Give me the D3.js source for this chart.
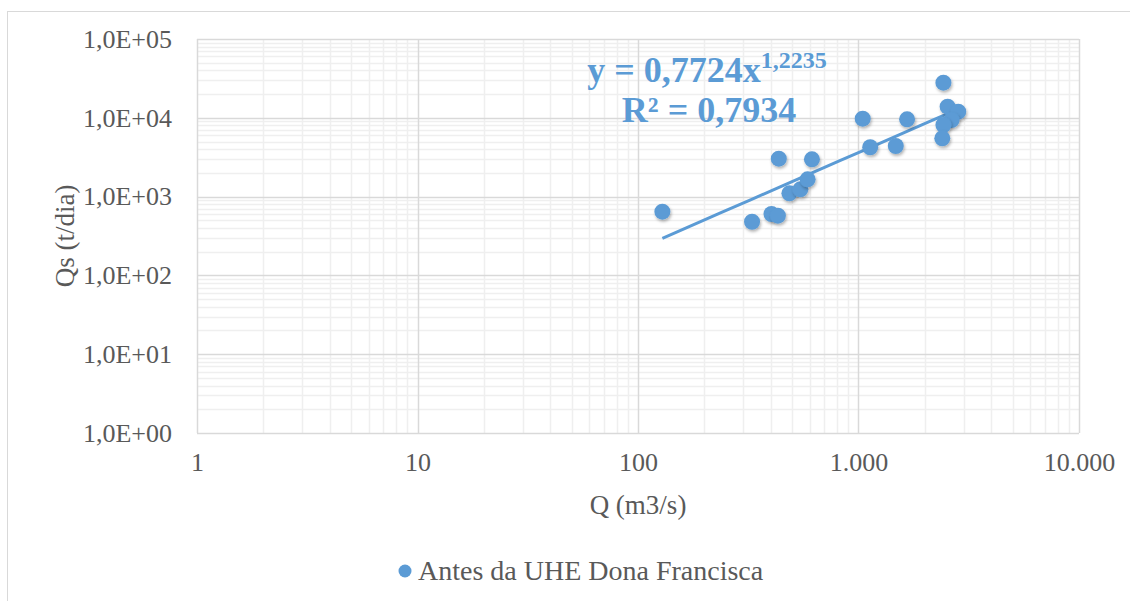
<!DOCTYPE html>
<html>
<head>
<meta charset="utf-8">
<script src="https://cdn.jsdelivr.net/npm/d3@7"></script>
<style>
  body { margin: 0; background: #fff; }
  svg text { font-family: "Liberation Serif", "DejaVu Serif", serif; }
  .tick text { fill: #595959; font-size: 26px; }
  .title { fill: #595959; font-size: 27px; }
  .eq { fill: #5b9bd5; font-weight: bold; }
</style>
</head>
<body>
<svg id="chart"></svg>
<script>

// data
var qValues  = [129, 329, 403, 431, 435, 486, 545, 588, 615, 1045, 1130, 1476, 1661, 2427, 2536, 2833, 2643, 2427, 2399]
var qsValues = [643, 480, 601, 572, 3027, 1101, 1238, 1657, 2973, 9743, 4226, 4387, 9566, 27900, 13830, 11950, 9370, 8110, 5493]

var xTickValues = [1, 10, 100, 1000, 10000]
var xTickLabels = ["1", "10", "100", "1.000", "10.000"]
var yTickValues = [1, 10, 100, 1000, 10000, 100000]
var yTickLabels = ["1,0E+00", "1,0E+01", "1,0E+02", "1,0E+03", "1,0E+04", "1,0E+05"]

var trendA = 0.7724
var trendB = 1.2235
var seriesName = "Antes da UHE Dona Francisca"

var screen = {width: 1130, height: 601}
var plot = {left: 197, right: 1079, top: 39, bottom: 433}
var blue = "#5b9bd5"
var serif = "Liberation Serif, DejaVu Serif, serif"

var svg = d3.select("#chart")
    .attr("width", screen.width)
    .attr("height", screen.height)

// chart border
svg.append("rect")
    .attr("x", 7.5).attr("y", 11.5)
    .attr("width", 1140).attr("height", 620)
    .attr("fill", "none")
    .attr("stroke", "#d9d9d9")

var defs = svg.append("defs")
var shadow = defs.append("filter").attr("id", "shadow")
    .attr("x", "-50%").attr("y", "-50%").attr("width", "200%").attr("height", "200%")
shadow.append("feDropShadow")
    .attr("dx", 1).attr("dy", 2).attr("stdDeviation", 1.5)
    .attr("flood-color", "#000").attr("flood-opacity", 0.3)

var xScale = d3.scaleLog()
    .domain([1, 10000])
    .range([plot.left, plot.right])

var yScale = d3.scaleLog()
    .domain([1, 100000])
    .range([plot.bottom, plot.top])

// minor gridlines
var minorX = [], minorY = []
xTickValues.slice(0, -1).forEach(function(d) {
    for (var k = 2; k < 10; k++) minorX.push(d * k)
})
yTickValues.slice(0, -1).forEach(function(d) {
    for (var k = 2; k < 10; k++) minorY.push(d * k)
})

var grid = svg.append("g")

grid.selectAll(".minx")
    .data(minorX)
    .enter()
    .append("line")
    .attr("x1", function(d) { return Math.round(xScale(d)) + 0.5 })
    .attr("x2", function(d) { return Math.round(xScale(d)) + 0.5 })
    .attr("y1", plot.top).attr("y2", plot.bottom)
    .attr("stroke", "#efefef").attr("stroke-width", 1.5)

grid.selectAll(".miny")
    .data(minorY)
    .enter()
    .append("line")
    .attr("y1", function(d) { return Math.round(yScale(d)) + 0.5 })
    .attr("y2", function(d) { return Math.round(yScale(d)) + 0.5 })
    .attr("x1", plot.left).attr("x2", plot.right)
    .attr("stroke", "#efefef").attr("stroke-width", 1.5)

grid.selectAll(".majx")
    .data(xTickValues)
    .enter()
    .append("line")
    .attr("x1", function(d) { return Math.round(xScale(d)) + 0.5 })
    .attr("x2", function(d) { return Math.round(xScale(d)) + 0.5 })
    .attr("y1", plot.top).attr("y2", plot.bottom)
    .attr("stroke", "#d9d9d9").attr("stroke-width", 1.5)

grid.selectAll(".majy")
    .data(yTickValues)
    .enter()
    .append("line")
    .attr("y1", function(d) { return Math.round(yScale(d)) + 0.5 })
    .attr("y2", function(d) { return Math.round(yScale(d)) + 0.5 })
    .attr("x1", plot.left).attr("x2", plot.right)
    .attr("stroke", "#d9d9d9").attr("stroke-width", 1.5)

// axes (labels only)
var xAxis = d3.axisBottom(xScale)
    .tickValues(xTickValues)
    .tickSize(0)
    .tickPadding(20)
    .tickFormat(function(d, i) { return xTickLabels[i] })

var yAxis = d3.axisLeft(yScale)
    .tickValues(yTickValues)
    .tickSize(0)
    .tickPadding(25)
    .tickFormat(function(d, i) { return yTickLabels[i] })

svg.append("g")
    .attr("transform", "translate(0," + plot.bottom + ")")
    .call(xAxis)
    .call(function(g) { g.select(".domain").remove() })

svg.append("g")
    .attr("transform", "translate(" + plot.left + ",0)")
    .call(yAxis)
    .call(function(g) { g.select(".domain").remove() })

svg.selectAll(".tick text").attr("font-family", serif).attr("font-size", null)

// trend line
var xMin = d3.min(qValues), xMax = d3.max(qValues)
var trendPts = d3.range(0, 11).map(function(i) {
    var x = xMin * Math.pow(xMax / xMin, i / 10)
    return [x, trendA * Math.pow(x, trendB)]
})

svg.append("path")
    .datum(trendPts)
    .attr("d", d3.line()
        .x(function(d) { return xScale(d[0]) })
        .y(function(d) { return yScale(d[1]) }))
    .attr("fill", "none")
    .attr("stroke", blue)
    .attr("stroke-width", 3)

// points
svg.append("g")
    .selectAll("circle")
    .data(qValues)
    .enter()
    .append("circle")
    .attr("cx", function(d) { return xScale(d) })
    .attr("cy", function(d, i) { return yScale(qsValues[i]) })
    .attr("r", 8)
    .attr("fill", blue)
    .attr("filter", "url(#shadow)")

// equation
var eq = svg.append("text")
    .classed("eq", true)
    .attr("font-family", serif)
    .attr("x", 707).attr("y", 82)
    .attr("text-anchor", "middle")
    .attr("font-size", 36)
eq.append("tspan").text("y = " + String(trendA).replace(".", ",") + "x")
eq.append("tspan")
    .attr("font-size", 24)
    .attr("dy", -14)
    .text(String(trendB).replace(".", ","))

svg.append("text")
    .classed("eq", true)
    .attr("font-family", serif)
    .attr("x", 709).attr("y", 122)
    .attr("text-anchor", "middle")
    .attr("font-size", 36)
    .text("R² = 0,7934")

// axis titles
svg.append("text")
    .classed("title", true)
    .attr("font-family", serif)
    .attr("text-anchor", "middle")
    .attr("x", (plot.left + plot.right) / 2)
    .attr("y", 514)
    .text("Q (m3/s)")

svg.append("text")
    .classed("title", true)
    .attr("font-family", serif)
    .attr("text-anchor", "middle")
    .attr("transform", "translate(74," + (plot.top + plot.bottom) / 2 + ") rotate(-90)")
    .text("Qs (t/dia)")

// legend
var legend = svg.append("g").attr("transform", "translate(405,571)")
legend.append("circle")
    .attr("r", 6.5)
    .attr("fill", blue)
legend.append("text")
    .classed("title", true)
    .attr("font-family", serif)
    .attr("font-size", 28)
    .style("font-size", "28px")
    .attr("x", 13)
    .attr("y", 9)
    .text(seriesName)

</script>
</body>
</html>
